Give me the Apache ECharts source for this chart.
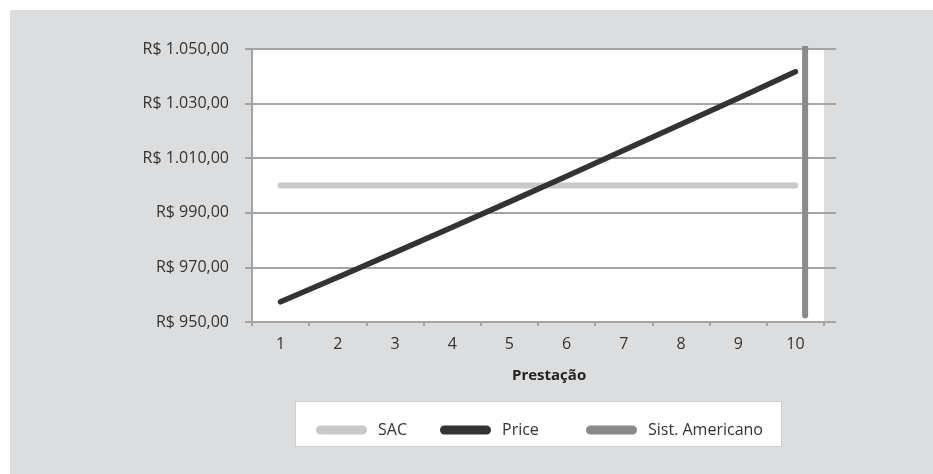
<!DOCTYPE html>
<html>
<head>
<meta charset="utf-8">
<script src="https://cdn.jsdelivr.net/npm/echarts@6/dist/echarts.min.js"></script>
<style>
  html, body { margin: 0; padding: 0; background: #ffffff; }
  #panel { position: absolute; left: 10px; top: 10px; width: 923px; height: 464px; background: #dcdddf; }
  #chart { position: absolute; left: 0; top: 0; width: 933px; height: 474px; }
</style>
</head>
<body>
<div id="panel"></div>
<div id="chart"></div>
<script>
// Installment numbers
const categories = ['1', '2', '3', '4', '5', '6', '7', '8', '9', '10'];
// Amortization per installment (R$)
const sacValues = [1000, 1000, 1000, 1000, 1000, 1000, 1000, 1000, 1000, 1000];
const priceValues = [957.4, 966.4, 975.5, 984.7, 994.0, 1003.4, 1012.9, 1022.4, 1032.0, 1041.7];
// Sist. Americano: whole principal repaid at the last installment
const americanoPoints = [[10.17, 952.4], [10.17, 10000]];
// Value axis range
const yMin = 950, yMax = 1050, yStep = 20;

const FONT = 'Open Sans';
const AXIS_GRAY = '#a4a4a4';
const TEXT = '#333333';

function brl(v) {
  const parts = v.toFixed(2).split('.');
  const int = parts[0].replace(/\B(?=(\d{3})+(?!\d))/g, '.');
  return 'R$ ' + int + ',' + parts[1];
}

const pill = 'path://M4.5,0 H46.5 A4.5,4.5 0 0 1 46.5,9 H4.5 A4.5,4.5 0 0 1 4.5,0 Z';
function legendAt(name, left) {
  return {
    data: [name],
    left: left,
    top: 417,
    icon: pill,
    itemWidth: 51,
    itemHeight: 9,
    selectedMode: false,
    lineStyle: { width: 0 },
    textStyle: { fontFamily: FONT, fontSize: 16, color: TEXT, padding: [0, 0, 0, 6] }
  };
}

const chart = echarts.init(document.getElementById('chart'), null, { renderer: 'canvas' });
chart.setOption({
  backgroundColor: 'transparent',
  animation: false,
  grid: { left: 252, right: 109, top: 49, bottom: 152, show: true, backgroundColor: '#ffffff', borderWidth: 0 },
  xAxis: [
    {
      type: 'category',
      data: categories,
      boundaryGap: true,
      axisLine: { lineStyle: { color: AXIS_GRAY, width: 2 } },
      axisTick: { show: true, length: 4, lineStyle: { color: AXIS_GRAY, width: 2 } },
      axisLabel: { margin: 14, color: TEXT, fontFamily: FONT, fontSize: 16 },
      splitLine: { show: false }
    },
    { type: 'value', min: 0.5, max: 10.5, show: false }
  ],
  yAxis: [
    {
      type: 'value',
      min: yMin, max: yMax, interval: yStep,
      axisLine: { show: true, lineStyle: { color: AXIS_GRAY, width: 2 } },
      axisTick: { show: true, length: 7, lineStyle: { color: AXIS_GRAY, width: 2 } },
      axisLabel: { margin: 23, color: TEXT, fontFamily: FONT, fontSize: 16, formatter: brl },
      splitLine: { show: true, lineStyle: { color: AXIS_GRAY, width: 2 } }
    },
    {
      type: 'value',
      position: 'right',
      min: yMin, max: yMax, interval: yStep,
      axisLine: { show: true, lineStyle: { color: '#dcdcdc', width: 1 } },
      axisTick: { show: true, length: 12, lineStyle: { color: AXIS_GRAY, width: 2 } },
      axisLabel: { show: false },
      splitLine: { show: false }
    }
  ],
  legend: [
    legendAt('SAC', 311),
    legendAt('Price', 435),
    legendAt('Sist. Americano', 581)
  ],
  graphic: [
    {
      type: 'rect',
      z: 1,
      shape: { x: 295.5, y: 401.5, width: 486, height: 45 },
      style: { fill: '#ffffff', stroke: '#cfcfcf', lineWidth: 1 }
    },
    {
      type: 'text',
      left: 512,
      top: 368,
      style: { text: 'Prestação', fontFamily: FONT, fontSize: 15, fontWeight: 'bold', fill: '#222222' }
    }
  ],
  series: [
    {
      name: 'SAC',
      type: 'line',
      data: sacValues,
      symbol: 'none',
      itemStyle: { color: '#c9c9c9' },
      lineStyle: { color: '#c9c9c9', width: 6, cap: 'round' },
      z: 2
    },
    {
      name: 'Price',
      type: 'line',
      data: priceValues,
      symbol: 'none',
      itemStyle: { color: '#333333' },
      lineStyle: { color: '#333333', width: 5.5, cap: 'round' },
      z: 3
    },
    {
      name: 'Sist. Americano',
      type: 'line',
      xAxisIndex: 1,
      data: americanoPoints,
      symbol: 'none',
      clip: true,
      itemStyle: { color: '#8a8a8a' },
      lineStyle: { color: '#8a8a8a', width: 6, cap: 'round' },
      z: 4
    }
  ]
});
</script>
</body>
</html>
